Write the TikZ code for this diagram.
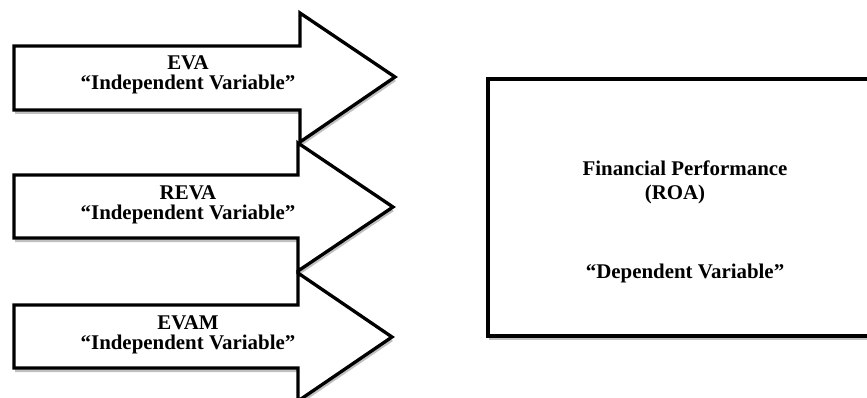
\documentclass[tikz,border=0pt]{standalone}
\usepackage{fontspec}
\setmainfont{Liberation Serif}
\usetikzlibrary{shadows}
\begin{document}
\begin{tikzpicture}[x=1pt,y=-1pt,
  outlineshape/.style={draw=black,line width=3.3pt,fill=white,line join=miter,
    drop shadow={shadow xshift=1pt,shadow yshift=-4pt,opacity=0.45,fill=black!55}},
  lbl/.style={font=\bfseries\fontsize{20.9}{20}\selectfont,align=center,inner sep=0pt}]
\useasboundingbox (0,0) rectangle (867,398);
\begin{scope}
\clip (0,0) rectangle (867,398);
\path[outlineshape] (14,46) -- (300,46) -- (300,13) -- (395,77) -- (300,142) -- (300,110) -- (14,110) -- cycle;
\path[outlineshape] (14,175) -- (298,175) -- (298,143) -- (393,207) -- (298,271) -- (298,238) -- (14,238) -- cycle;
\path[outlineshape] (14,305) -- (298,305) -- (298,273) -- (392,337) -- (298,401) -- (298,368) -- (14,368) -- cycle;
\path[outlineshape] (488,79) rectangle (880,336);
\end{scope}
\node[lbl] (eva) at (188,75) {EVA\\ “Independent Variable”};
\node[lbl] (reva) at (188,205) {REVA\\ “Independent Variable”};
\node[lbl] (evam) at (188,335) {EVAM\\ “Independent Variable”};
\node[lbl] (fp) at (685,168) {Financial Performance};
\node[lbl] (roa) at (675,194) {(ROA)};
\node[lbl] (dv) at (685,273) {“Dependent Variable”};
\end{tikzpicture}
\end{document}
